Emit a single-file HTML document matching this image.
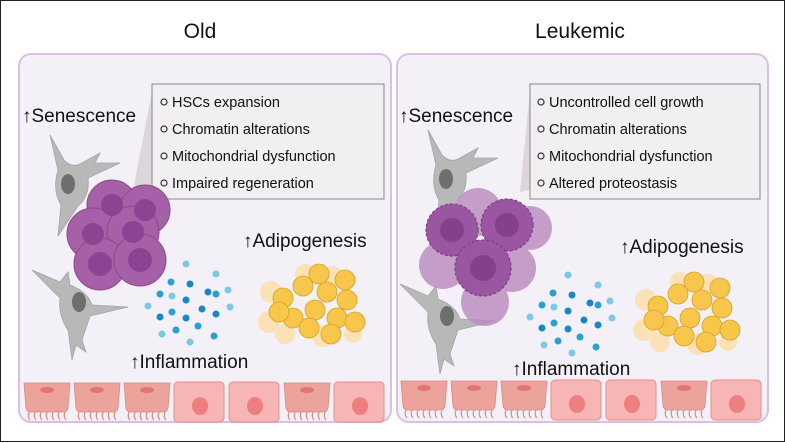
<!DOCTYPE html>
<html><head><meta charset="utf-8"><style>
html,body{margin:0;padding:0;background:#fff}
svg{display:block}
text{font-family:"Liberation Sans",sans-serif;fill:#111}
</style></head><body>
<svg width="785" height="443" viewBox="0 0 785 443" xmlns="http://www.w3.org/2000/svg">
<defs>
<g id="col">
 <path d="M1,1 L47,1 L45,26 Q44,30 40,30 L8,30 Q4,30 3,26 Z" fill="#eba39c" stroke="#d98a84" stroke-width="0.8"/>
 <ellipse cx="24" cy="8" rx="7" ry="3" fill="#e07572"/>
 <path d="M6,30 q-2,5 1,8 M12,30 q-2,5 1,8 M18,30 q-2,5 1,8 M24,30 q-2,5 1,8 M30,30 q-2,5 1,8 M36,30 q-2,5 1,8 M42,30 q-2,5 1,8" stroke="#d98a84" fill="none" stroke-width="1.2"/>
</g>
<g id="sq">
 <rect x="1" y="0" width="50" height="40" rx="4" fill="#f7b5b5" stroke="#e58e8e" stroke-width="1"/>
 <ellipse cx="27" cy="24" rx="8" ry="9" fill="#ee7f7f"/>
</g>
<g id="row">
 <use href="#col" x="0"/><use href="#col" x="50"/><use href="#col" x="100"/>
 <use href="#sq" x="150"/><use href="#sq" x="205"/>
 <use href="#col" x="260"/><use href="#sq" x="310"/>
</g>
<g id="fibA">
 <path d="M50,135 L64,160 Q72,168 80,164 L100,153 L95,163 L120,163 L88,178 Q90,196 78,206 L58,236 L61,205 Q52,190 58,170 Z" fill="#b9b8b9" stroke="#a5a4a5" stroke-width="0.8"/>
 <ellipse cx="68" cy="184" rx="7" ry="10" fill="#6f6e6f"/>
</g>
<g id="fibB">
 <path d="M32,270 L60,282 L68,272 L70,285 Q88,292 92,305 L128,307 L90,316 L82,340 L86,352 L76,345 L72,360 L68,330 Q58,315 60,298 Z" fill="#b9b8b9" stroke="#a5a4a5" stroke-width="0.8"/>
 <ellipse cx="79" cy="302" rx="7" ry="10" fill="#6f6e6f"/>
</g>
<g id="dots">
 <circle cx="0" cy="0" r="3.5" fill="#7cc9e6"/><circle cx="30" cy="10" r="3.5" fill="#7cc9e6"/>
 <circle cx="-15" cy="18" r="3.5" fill="#2a9fd2"/><circle cx="4" cy="20" r="3.5" fill="#1a86c4"/>
 <circle cx="22" cy="28" r="3.5" fill="#1a86c4"/><circle cx="42" cy="26" r="3.5" fill="#7cc9e6"/>
 <circle cx="-26" cy="30" r="3.5" fill="#2a9fd2"/><circle cx="-14" cy="32" r="3.5" fill="#7cc9e6"/>
 <circle cx="0" cy="36" r="3.5" fill="#1a86c4"/><circle cx="30" cy="30" r="3.5" fill="#2a9fd2"/>
 <circle cx="-38" cy="42" r="3.5" fill="#7cc9e6"/><circle cx="-14" cy="48" r="3.5" fill="#2a9fd2"/>
 <circle cx="16" cy="45" r="3.5" fill="#1a86c4"/><circle cx="30" cy="50" r="3.5" fill="#1a86c4"/>
 <circle cx="44" cy="43" r="3.5" fill="#7cc9e6"/><circle cx="-26" cy="53" r="3.5" fill="#1a86c4"/>
 <circle cx="0" cy="54" r="3.5" fill="#1a86c4"/><circle cx="12" cy="62" r="3.5" fill="#2a9fd2"/>
 <circle cx="-24" cy="70" r="3.5" fill="#7cc9e6"/><circle cx="-10" cy="66" r="3.5" fill="#2a9fd2"/>
 <circle cx="28" cy="72" r="3.5" fill="#2a9fd2"/><circle cx="4" cy="78" r="3.5" fill="#7cc9e6"/>
</g>
<g id="fat">
 <g fill="#fbe0b0" opacity="0.9">
  <circle cx="-42" cy="-12" r="11"/><circle cx="-44" cy="18" r="11"/><circle cx="-8" cy="-30" r="10"/><circle cx="20" cy="-28" r="10"/><circle cx="10" cy="32" r="11"/><circle cx="-28" cy="30" r="10"/><circle cx="40" cy="30" r="9"/>
 </g>
 <g fill="#f8c64a" stroke="#d9a126" stroke-width="0.8">
  <circle cx="-30" cy="-6" r="10"/><circle cx="-10" cy="-18" r="10"/><circle cx="14" cy="-12" r="10"/><circle cx="34" cy="-4" r="10"/>
  <circle cx="-20" cy="14" r="10"/><circle cx="2" cy="6" r="10"/><circle cx="24" cy="14" r="10"/><circle cx="42" cy="18" r="10"/>
  <circle cx="-4" cy="24" r="10"/><circle cx="-34" cy="8" r="10"/><circle cx="6" cy="-30" r="10"/><circle cx="32" cy="-24" r="10"/><circle cx="18" cy="30" r="10"/>
 </g>
</g>
</defs>
<rect x="0.5" y="0.5" width="784" height="441" fill="#fff" stroke="#222" stroke-width="1"/>
<text x="200" y="38" font-size="21" text-anchor="middle">Old</text>
<text x="580" y="38" font-size="21" text-anchor="middle">Leukemic</text>
<rect x="19" y="54" width="372" height="368" rx="12" fill="#f3f0f7" stroke="#d7c0e2" stroke-width="2"/>
<rect x="397" y="54" width="371" height="368" rx="12" fill="#f3f0f7" stroke="#d7c0e2" stroke-width="2"/>

<!-- LEFT -->
<polygon points="152,92 152,190 134,185" fill="#ddd4dc"/>
<rect x="152" y="84" width="232" height="115" fill="#f1eff1" stroke="#888" stroke-width="1"/>
<g font-size="14.5">
<text x="172" y="107">HSCs expansion</text>
<text x="172" y="134">Chromatin alterations</text>
<text x="172" y="161">Mitochondrial dysfunction</text>
<text x="172" y="188">Impaired regeneration</text>
</g>
<g fill="none" stroke="#333" stroke-width="1.2"><circle cx="164" cy="102" r="3"/><circle cx="164" cy="129" r="3"/><circle cx="164" cy="156" r="3"/><circle cx="164" cy="183" r="3"/></g>
<text x="22" y="122" font-size="19">↑Senescence</text>
<use href="#fibA"/>
<use href="#fibB"/>
<g fill="#a560a8" stroke="#8b4a8e" stroke-width="1">
 <circle cx="112" cy="205" r="25"/><circle cx="145" cy="210" r="25"/>
 <circle cx="93" cy="234" r="26"/><circle cx="133" cy="232" r="26"/>
 <circle cx="100" cy="264" r="26"/><circle cx="140" cy="260" r="26"/>
</g>
<g fill="#8c4391"><circle cx="112" cy="205" r="11"/><circle cx="145" cy="210" r="11"/><circle cx="93" cy="234" r="11"/><circle cx="133" cy="232" r="11"/><circle cx="100" cy="264" r="12"/><circle cx="140" cy="260" r="12"/></g>
<use href="#dots" transform="translate(186,264)"/>
<text x="243" y="247" font-size="19">↑Adipogenesis</text>
<use href="#fat" transform="translate(313,304)"/>
<text x="130" y="368" font-size="19">↑Inflammation</text>
<use href="#row" transform="translate(23,382)"/>

<!-- RIGHT -->
<polygon points="530,92 530,190 520,192" fill="#ddd4dc"/>
<rect x="530" y="84" width="230" height="115" fill="#f1eff1" stroke="#888" stroke-width="1"/>
<g font-size="14.5">
<text x="549" y="107">Uncontrolled cell growth</text>
<text x="549" y="134">Chromatin alterations</text>
<text x="549" y="161">Mitochondrial dysfunction</text>
<text x="549" y="188">Altered proteostasis</text>
</g>
<g fill="none" stroke="#333" stroke-width="1.2"><circle cx="541" cy="102" r="3"/><circle cx="541" cy="129" r="3"/><circle cx="541" cy="156" r="3"/><circle cx="541" cy="183" r="3"/></g>
<text x="399" y="122" font-size="19">↑Senescence</text>
<use href="#fibA" transform="translate(378,-5)"/>
<use href="#fibB" transform="translate(368,14)"/>
<g fill="#b98abe" opacity="0.8">
 <circle cx="478" cy="212" r="24"/><circle cx="530" cy="228" r="22"/><circle cx="443" cy="265" r="24"/><circle cx="512" cy="268" r="24"/><circle cx="485" cy="302" r="24"/>
</g>
<g fill="#9a56a0" stroke="#7e3f84" stroke-width="1.2" stroke-dasharray="3 2">
 <circle cx="452" cy="230" r="26"/><circle cx="507" cy="225" r="26"/><circle cx="483" cy="268" r="28"/>
</g>
<g fill="#85408c"><circle cx="452" cy="230" r="12"/><circle cx="507" cy="225" r="12"/><circle cx="483" cy="268" r="13"/></g>
<use href="#dots" transform="translate(568,275)"/>
<text x="620" y="253" font-size="19">↑Adipogenesis</text>
<use href="#fat" transform="translate(688,312)"/>
<text x="512" y="375" font-size="19">↑Inflammation</text>
<use href="#row" transform="translate(400,380)"/>
</svg>
</body></html>
